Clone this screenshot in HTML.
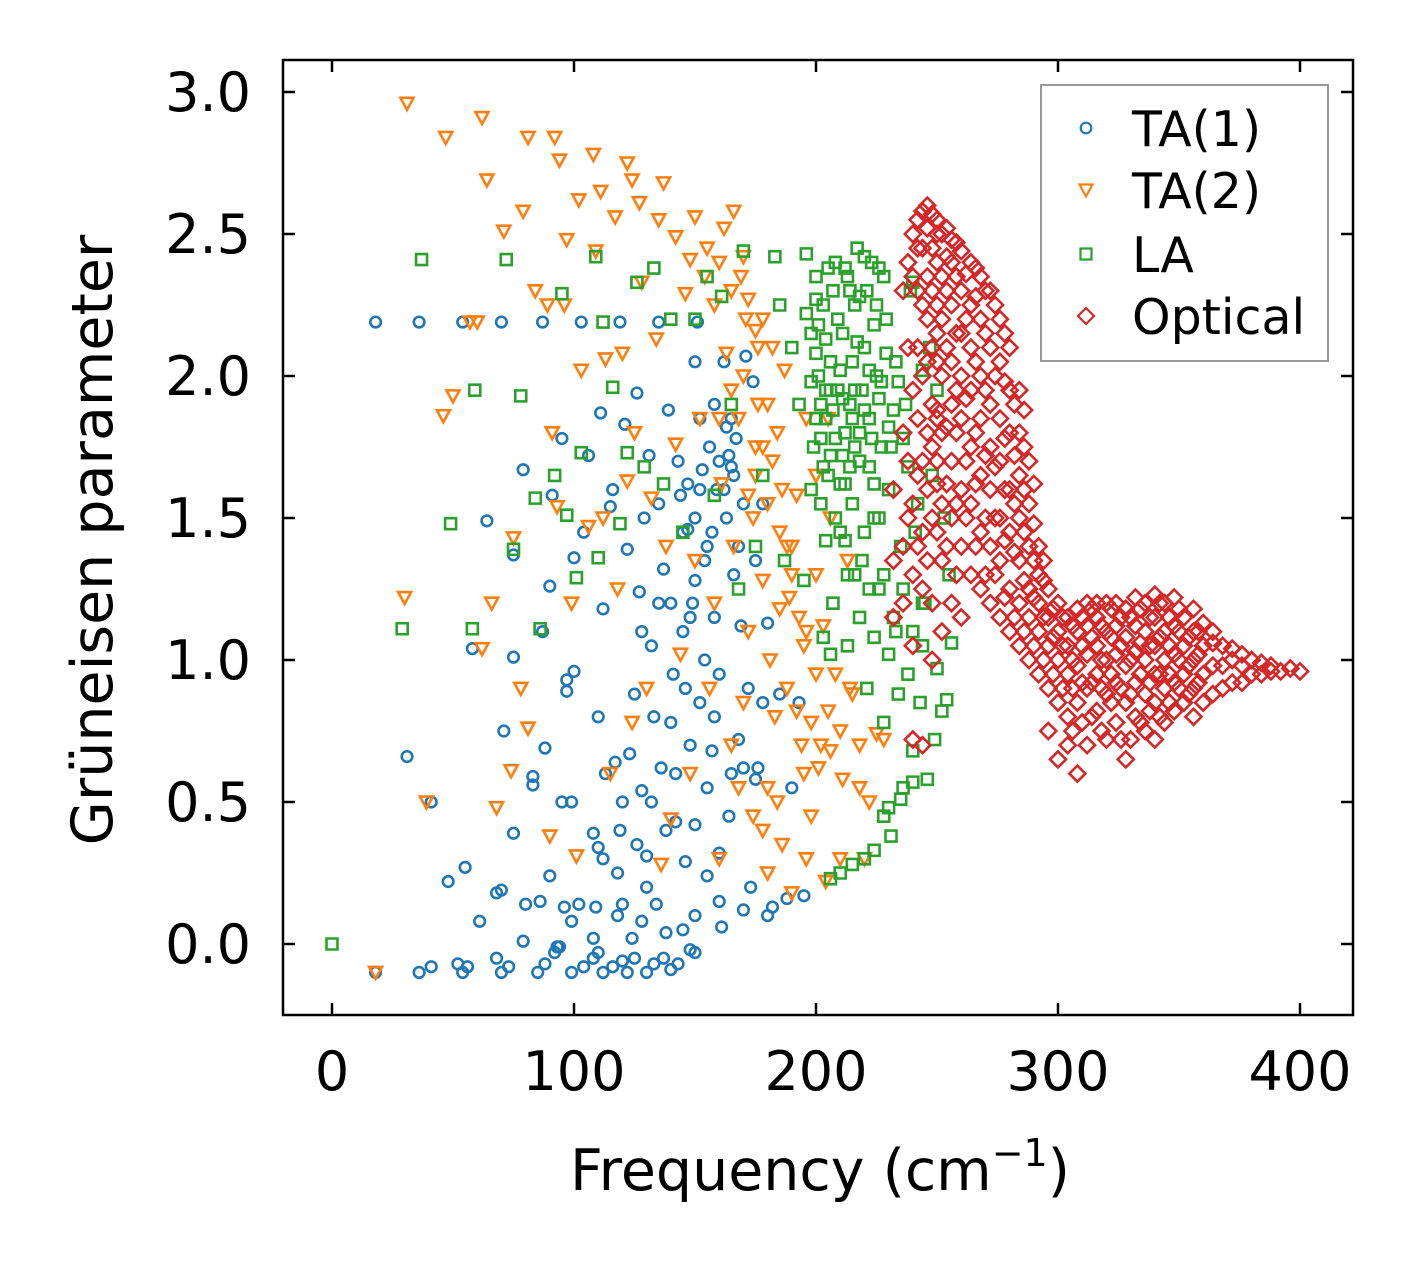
<!DOCTYPE html>
<html><head><meta charset="utf-8">
<style>
html,body{margin:0;padding:0;background:#fff;}
svg{display:block;font-family:"DejaVu Sans","Liberation Sans",sans-serif;}
</style></head>
<body>
<svg id="chart" width="1416" height="1264" viewBox="0 0 1416 1264" xmlns="http://www.w3.org/2000/svg">
<rect x="0" y="0" width="1416" height="1264" fill="#fff"/>
<g id="marks"></g>
<rect x="283" y="60" width="1070" height="955" fill="none" stroke="#000" stroke-width="2.5"/>
<g id="ticks"></g>
<text x="820" y="1190" font-size="57" text-anchor="middle">Frequency (cm<tspan font-size="38" dy="-24">−1</tspan><tspan dy="24">)</tspan></text>
<text transform="translate(112,540) rotate(-90)" font-size="57" text-anchor="middle">Grüneisen parameter</text>
<g>
<rect x="1041" y="85" width="287" height="276" fill="#fff" stroke="#999" stroke-width="2"/>
<g id="legend-items"></g>
</g>
</svg>
<script>
const xTicks = [0,100,200,300,400];
const yTicks = [0.0,0.5,1.0,1.5,2.0,2.5,3.0];
const xTickLabels = ["0","100","200","300","400"];
const yTickLabels = ["0.0","0.5","1.0","1.5","2.0","2.5","3.0"];
const seriesNames = ["TA(1)","TA(2)","LA","Optical"];

const ta1 = [[18,2.19],[36,2.19],[54,2.19],[70,2.19],[87,2.19],[103,2.19],[119,2.19],[135,2.19],[151,2.19],[18,-0.1],[36,-0.1],[41,-0.08],[52,-0.07],[54,-0.1],[56,-0.08],[68,-0.05],[70,-0.1],[73,-0.08],[85,-0.1],[88,-0.07],[92,-0.03],[94,-0.01],[99,-0.1],[104,-0.08],[108,-0.05],[112,-0.1],[116,-0.08],[120,-0.06],[122,-0.1],[125,-0.05],[130,-0.1],[133,-0.07],[137,-0.05],[140,-0.09],[143,-0.07],[148,-0.02],[150,-0.03],[31,0.66],[41,0.5],[48,0.22],[55,0.27],[58,1.04],[61,0.08],[64,1.49],[68,0.18],[70,0.19],[71,0.75],[75,1.01],[75,0.39],[75,1.37],[79,0.01],[80,0.14],[79,1.67],[83,0.56],[83,0.59],[86,0.15],[87,1.1],[88,0.69],[90,0.24],[90,1.26],[91,1.58],[93,-0.01],[95,0.5],[95,1.78],[96,0.13],[97,0.89],[97,0.93],[99,0.08],[99,0.5],[100,0.96],[100,1.36],[102,0.14],[104,1.45],[106,1.72],[108,0.39],[108,0.02],[109,0.13],[110,0.8],[110,0.34],[111,1.87],[112,1.18],[113,0.6],[115,1.54],[116,1.6],[117,0.64],[118,0.25],[119,0.4],[120,0.14],[121,1.83],[122,1.39],[123,0.67],[124,0.02],[125,0.88],[126,1.94],[127,1.24],[128,0.54],[129,1.5],[130,0.31],[131,1.72],[132,1.05],[133,0.8],[134,0.14],[135,1.55],[136,0.62],[137,1.32],[138,0.04],[139,1.88],[140,1.2],[141,0.95],[142,0.43],[143,1.7],[144,1.58],[145,1.1],[146,0.29],[147,1.46],[148,0.7],[149,1.2],[150,2.05],[150,0.42],[152,1.85],[153,1.67],[154,1.0],[155,1.4],[155,0.24],[156,1.75],[157,0.68],[158,1.15],[159,1.6],[160,0.95],[161,0.06],[162,2.05],[163,1.5],[164,0.45],[165,1.85],[166,1.3],[167,1.78],[168,0.72],[169,1.12],[170,1.55],[171,2.07],[172,0.9],[173,0.2],[174,1.98],[175,1.35],[176,0.62],[178,0.85],[178,1.55],[180,1.13],[182,0.13],[185,0.88],[188,0.16],[190,0.55],[193,0.85],[195,0.17],[145,1.45],[147,1.62],[160,1.7],[163,1.82],[165,1.68],[150,1.28],[135,1.2],[128,1.1],[140,0.78],[120,0.5],[130,0.2],[150,0.1],[160,0.32],[155,0.55],[168,1.4],[145,0.05],[128,0.08],[112,0.3],[150,1.5],[152,1.6],[157,1.45],[162,1.6],[164,1.72],[166,1.65],[158,1.9],[154,1.35],[148,1.15],[146,0.9],[152,0.85],[158,0.8],[165,0.6],[170,0.62],[175,0.58],[142,0.6],[138,0.4],[132,0.5],[126,0.35],[118,0.1],[110,-0.03],[160,0.15],[170,0.12],[180,0.1]];

const ta2 = [[18,-0.1],[31,2.96],[47,2.84],[62,2.91],[64,2.69],[71,2.51],[79,2.58],[81,2.84],[92,2.84],[94,2.76],[97,2.48],[102,2.62],[108,2.78],[111,2.65],[117,2.56],[122,2.75],[124,2.69],[127,2.61],[135,2.55],[137,2.68],[142,2.49],[148,2.41],[150,2.56],[155,2.45],[162,2.52],[166,2.58],[169,2.35],[172,2.27],[175,2.16],[178,2.2],[30,1.22],[39,0.5],[46,1.86],[50,1.93],[57,2.19],[60,2.19],[62,1.04],[66,1.2],[68,0.48],[74,0.61],[75,1.43],[78,0.9],[81,0.76],[84,2.3],[89,2.25],[91,1.8],[90,0.38],[93,1.54],[96,2.25],[99,1.2],[101,0.31],[103,2.02],[106,1.47],[109,2.44],[112,1.5],[113,2.06],[115,0.6],[118,1.25],[120,2.08],[122,1.63],[124,0.78],[125,1.8],[128,2.33],[130,0.9],[132,1.57],[134,2.13],[136,0.28],[138,1.4],[140,0.44],[142,1.76],[144,1.02],[146,2.29],[148,0.6],[150,1.35],[152,1.85],[154,2.35],[156,0.9],[158,1.2],[160,0.3],[161,1.62],[163,2.08],[165,0.7],[166,1.4],[168,1.85],[170,0.85],[171,2.2],[172,1.1],[174,0.45],[175,1.65],[176,1.9],[178,1.28],[180,0.25],[181,1.0],[182,1.7],[184,0.5],[185,1.45],[187,2.02],[188,0.9],[189,1.22],[190,0.18],[192,1.58],[194,0.7],[195,1.05],[196,1.85],[198,0.45],[200,1.3],[201,0.62],[203,1.12],[204,0.22],[205,0.82],[206,1.5],[208,0.95],[210,0.3],[211,0.58],[213,1.35],[215,0.88],[218,0.55],[220,0.3],[222,0.5],[225,0.74],[228,0.72],[160,2.4],[165,2.3],[170,2.42],[158,2.25],[175,1.75],[180,1.55],[185,1.18],[172,1.58],[168,0.55],[178,0.4],[183,0.8],[190,1.4],[195,0.6],[200,0.95],[176,2.1],[180,1.9],[184,1.8],[186,1.6],[188,1.4],[190,1.3],[193,1.15],[196,1.1],[182,2.1],[178,1.75],[174,1.5],[192,0.82],[198,0.78],[202,0.7],[206,0.68],[210,0.75],[196,0.3],[186,0.35],[180,0.55],[214,0.9],[218,0.7],[200,1.65],[205,1.85],[170,2.0],[165,1.95],[160,1.85]];

const la = [[0,0],[29,1.11],[37,2.41],[49,1.48],[58,1.11],[59,1.95],[72,2.41],[75,1.39],[78,1.93],[84,1.57],[86,1.11],[92,1.65],[95,2.29],[97,1.51],[101,1.29],[103,1.73],[109,2.42],[110,1.36],[112,2.19],[116,1.96],[119,1.48],[122,1.73],[126,2.33],[129,1.68],[133,2.38],[137,1.62],[140,2.2],[145,1.45],[150,2.2],[155,2.35],[158,1.58],[161,2.28],[165,1.9],[168,1.25],[170,2.44],[175,1.4],[178,1.65],[183,2.42],[185,2.25],[187,1.35],[190,2.1],[193,1.9],[195,1.28],[196,2.43],[198,2.15],[199,1.75],[200,2.35],[201,2.0],[202,1.55],[203,2.25],[204,1.85],[205,1.65],[206,2.05],[207,1.2],[208,2.4],[209,1.95],[210,1.45],[211,2.15],[212,1.8],[213,1.05],[214,2.3],[215,1.55],[216,1.95],[217,2.45],[218,1.7],[219,1.35],[220,2.1],[221,0.9],[222,1.85],[223,2.4],[224,1.5],[225,2.0],[226,1.25],[227,1.75],[228,0.78],[229,2.2],[230,1.6],[231,0.38],[232,1.15],[233,2.05],[234,0.88],[235,1.4],[236,0.55],[237,1.9],[238,0.95],[239,2.3],[240,0.68],[242,1.55],[243,0.85],[245,1.2],[246,0.58],[248,1.65],[249,0.72],[250,0.97],[252,0.82],[253,1.5],[254,0.86],[255,1.3],[256,1.06],[228,0.45],[224,0.33],[220,0.3],[215,0.28],[210,0.25],[206,0.23],[230,0.48],[235,0.51],[240,0.57],[196,2.22],[200,2.27],[204,2.13],[208,1.78],[212,1.62],[216,2.25],[220,1.88],[224,2.18],[198,1.98],[202,1.9],[206,1.72],[210,2.02],[214,1.68],[218,1.8],[222,2.02],[226,1.92],[230,1.82],[234,1.98],[238,1.68],[244,2.02],[236,1.78],[241,1.45],[244,1.2],[233,1.1],[226,1.5],[206,1.02],[213,1.3],[218,1.15],[240,2.33],[247,2.1],[250,1.95],[200,2.08],[204,1.95],[212,2.38],[216,1.75],[220,2.42],[224,1.62],[228,2.35],[232,1.88],[207,2.3],[211,1.92],[215,2.05],[200,1.85],[201,2.18],[203,1.68],[205,2.38],[207,1.88],[209,2.2],[211,1.72],[213,2.35],[215,1.85],[217,2.12],[219,1.95],[221,2.3],[223,1.78],[225,2.25],[227,1.98],[229,2.08],[202,1.78],[206,1.95],[210,1.62],[214,1.9],[218,2.28],[222,1.68],[226,2.38],[231,1.75],[204,1.42],[208,1.5],[212,1.42],[216,1.3],[220,1.45],[222,1.25],[228,1.3],[224,1.08],[230,1.02],[236,1.25],[240,1.1],[244,1.05],[198,1.6],[203,1.08]];

const opticalCols = [[232,[1.35,1.6,1.15]],[236,[1.4,1.8,2.3,1.2]],[240,[1.3,1.55,1.95,2.35,2.5,0.72,1.05]],[244,[1.45,1.7,2.0,2.25,2.45,2.58,1.25,0.7]],[248,[1.5,1.75,1.9,2.1,2.3,2.45,2.57,1.2,1.0]],[252,[1.55,1.8,2.0,2.2,2.35,2.5,1.35,1.1]],[256,[1.5,1.7,1.9,2.05,2.25,2.4,2.48,1.2]],[260,[1.4,1.6,1.85,2.0,2.15,2.3,2.44,1.15]],[264,[1.3,1.55,1.75,1.95,2.1,2.25,2.4]],[268,[1.25,1.45,1.65,1.85,2.0,2.2,2.35]],[272,[1.2,1.4,1.6,1.75,1.9,2.1,2.3]],[276,[1.15,1.35,1.5,1.7,1.85,2.05,2.2]],[280,[1.1,1.25,1.45,1.6,1.8,1.95,2.1]],[284,[1.05,1.2,1.35,1.5,1.65,1.8,1.95]],[288,[1.0,1.15,1.25,1.4,1.55,1.7]],[292,[0.95,1.1,1.2,1.3,1.4]],[296,[0.9,1.05,1.15,1.25,0.75]],[300,[0.85,1.0,1.1,1.2,0.65]],[304,[0.8,0.95,1.05,1.15,0.7]],[308,[0.6,0.85,0.98,1.1,1.18]],[312,[0.7,0.9,1.02,1.12,1.2]],[316,[0.82,0.95,1.05,1.15,1.2]],[320,[0.72,0.88,1.0,1.1,1.2]],[324,[0.78,0.92,1.02,1.12,1.2]],[328,[0.65,0.85,0.98,1.08,1.18]],[332,[0.8,0.92,1.03,1.12,1.22]],[336,[0.75,0.88,1.0,1.1,1.2]],[340,[0.72,0.85,0.95,1.05,1.15,1.23]],[344,[0.78,0.9,1.0,1.1,1.2]],[348,[0.82,0.92,1.02,1.12,1.22]],[352,[0.85,0.95,1.05,1.15]],[356,[0.8,0.9,1.0,1.1,1.18]],[360,[0.85,0.95,1.05,1.13]],[364,[0.88,0.98,1.06,1.1]],[368,[0.9,0.98,1.05]],[372,[0.92,1.0,1.04]],[376,[0.92,0.98,1.02]],[380,[0.95,1.0]],[384,[0.95,0.99]],[388,[0.96,0.98]],[392,[0.96]],[396,[0.97]],[400,[0.96]],[250,[1.62,1.88,2.15,2.4]],[262,[1.5,1.7,1.92,2.2,2.36]],[274,[1.3,1.5,1.68,2.0,2.25]],[282,[1.15,1.38,1.55,1.72,1.9]],[290,[1.05,1.22,1.35,1.48,1.62]],[298,[0.95,1.08,1.18]],[310,[0.78,0.92,1.05,1.15]],[330,[0.72,0.88,1.0,1.15]],[346,[0.85,0.95,1.05,1.15]],[238,[1.5,1.7,2.1,2.4]],[242,[1.4,1.65,1.85,2.1,2.3,2.45,2.55]],[246,[1.35,1.6,1.8,2.05,2.2,2.35,2.52,2.6]],[250,[1.45,1.7,1.85,2.05,2.25,2.5,2.55]],[254,[1.4,1.62,1.82,2.1,2.3,2.42,2.52]],[258,[1.3,1.55,1.8,1.95,2.15,2.35,2.47]],[266,[1.4,1.62,1.8,2.05,2.28,2.38]],[270,[1.3,1.5,1.72,1.95,2.15,2.3]],[278,[1.22,1.42,1.6,1.78,1.98,2.15]],[286,[1.1,1.28,1.45,1.6,1.75,1.88]],[294,[1.0,1.15,1.28,1.35]],[302,[0.9,1.05,1.15]],[306,[0.75,0.9,1.0,1.12]],[314,[0.8,0.92,1.08,1.18]],[318,[0.75,0.9,1.0,1.12]],[322,[0.85,0.95,1.08,1.18]],[326,[0.72,0.9,1.05,1.15]],[334,[0.78,0.95,1.06,1.18]],[338,[0.82,0.92,1.05,1.15]],[342,[0.8,0.95,1.08,1.2]],[350,[0.9,1.0,1.1,1.18]],[354,[0.88,0.98,1.08]],[358,[0.92,1.02,1.1]]];

const SVGNS = "http://www.w3.org/2000/svg";
const X0 = 332, XS = 2.42, Y0 = 944, YS = 284;
function xScale(v){ return X0 + v*XS; }
function yScale(v){ return Y0 - v*YS; }
const colors = ["#1f77b4","#ff7f0e","#2ca02c","#d62728"];

function markerPath(kind, cx, cy){
  if(kind===0){ const r=5.3; return "M"+(cx-r)+","+cy+"a"+r+","+r+" 0 1,0 "+(2*r)+",0a"+r+","+r+" 0 1,0 "+(-2*r)+",0Z"; }
  if(kind===1){ return "M"+(cx-6.5)+","+(cy-5.5)+"L"+(cx+6.5)+","+(cy-5.5)+"L"+cx+","+(cy+6.5)+"Z"; }
  if(kind===2){ return "M"+(cx-5.5)+","+(cy-5.5)+"h11v11h-11Z"; }
  return "M"+cx+","+(cy-8)+"L"+(cx+8)+","+cy+"L"+cx+","+(cy+8)+"L"+(cx-8)+","+cy+"Z";
}

const marks = document.getElementById("marks");
function drawSeries(points, kind, name){
  const g = document.createElementNS(SVGNS,"g");
  
  
  points.forEach(function(p){
    const el = document.createElementNS(SVGNS,"path");
    el.setAttribute("d", markerPath(kind, xScale(p[0]), yScale(p[1])));
    el.setAttribute("fill","none");
    el.setAttribute("stroke", colors[kind]);
    el.setAttribute("stroke-width","2.6");
    
    
    g.appendChild(el);
  });
  marks.appendChild(g);
}
const opticalPts = [];
opticalCols.forEach(function(c){ c[1].forEach(function(v){ opticalPts.push([c[0], v]); }); });
drawSeries(ta1, 0, "ta1-series");
drawSeries(ta2, 1, "ta2-series");
drawSeries(la, 2, "la-series");
drawSeries(opticalPts, 3, "optical-series");

const ticks = document.getElementById("ticks");
function line(x1,y1,x2,y2,name){
  const l = document.createElementNS(SVGNS,"line");
  l.setAttribute("x1",x1); l.setAttribute("y1",y1); l.setAttribute("x2",x2); l.setAttribute("y2",y2);
  l.setAttribute("stroke","#000"); l.setAttribute("stroke-width","2.5");
  
  
  ticks.appendChild(l);
}
function text(x,y,s,anchor,name){
  const t = document.createElementNS(SVGNS,"text");
  t.setAttribute("x",x); t.setAttribute("y",y); t.setAttribute("font-size","54");
  t.setAttribute("text-anchor",anchor); t.textContent = s;
  
  
  ticks.appendChild(t);
}
xTicks.forEach(function(v,i){
  const x = xScale(v);
  line(x,1015,x,1003,"x-tick");
  line(x,60,x,72,"x-tick-top");
  text(x,1090,xTickLabels[i],"middle","x-tick-label");
});
yTicks.forEach(function(v,i){
  const y = yScale(v);
  line(283,y,295,y,"y-tick");
  line(1353,y,1341,y,"y-tick-right");
  text(251,y+19,yTickLabels[i],"end","y-tick-label");
});

const leg = document.getElementById("legend-items");
const legY = [128,190,254,316];
seriesNames.forEach(function(n,i){
  const m = document.createElementNS(SVGNS,"path");
  m.setAttribute("d", markerPath(i, 1086, legY[i]));
  m.setAttribute("fill","none"); m.setAttribute("stroke",colors[i]); m.setAttribute("stroke-width","2.2");
  
  
  leg.appendChild(m);
  const t = document.createElementNS(SVGNS,"text");
  t.setAttribute("x",1132); t.setAttribute("y",legY[i]+18); t.setAttribute("font-size","49");
  t.textContent = n;
  
  
  leg.appendChild(t);
});
</script>
</body></html>
